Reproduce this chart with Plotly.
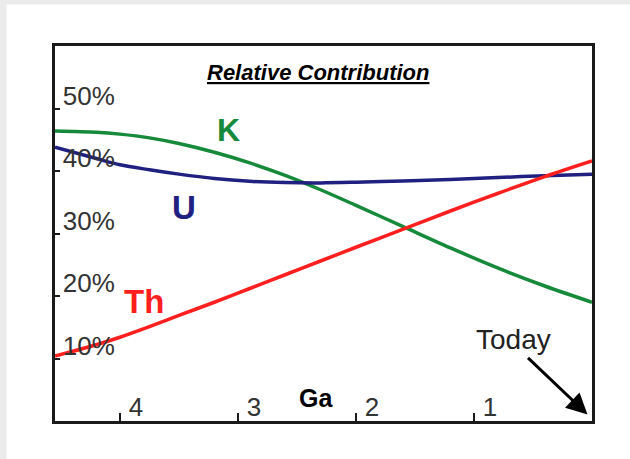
import plotly.graph_objects as go

# Data (Ga before present, % contribution)
ga = [4.55, 4.2, 4.0, 3.75, 3.5, 3.2, 2.9, 2.6, 2.3, 2.0, 1.6, 1.2, 0.8, 0.4, 0.0]
k_vals = [46.4, 46.2, 45.9, 45.3, 44.4, 43.0, 41.3, 39.3, 37.0, 34.5, 31.1, 27.7, 24.5, 21.6, 19.0]
u_vals = [43.8, 42.0, 41.0, 40.2, 39.5, 38.8, 38.35, 38.15, 38.1, 38.2, 38.4, 38.65, 38.95, 39.25, 39.5]
th_vals = [10.4, 12.2, 13.4, 15.1, 16.9, 19.0, 21.2, 23.4, 25.6, 27.8, 30.7, 33.6, 36.4, 39.1, 41.6]

x_ticks = [4, 3, 2, 1]
x_tick_labels = ["4", "3", "2", "1"]
y_ticks = [10, 20, 30, 40, 50]
y_tick_labels = ["10%", "20%", "30%", "40%", "50%"]

GREEN = "#17893b"
NAVY = "#202080"
RED = "#ff1f1f"
FONT = "Liberation Sans, Arial, sans-serif"

L, R, T, B = 54.5, 37.5, 45.5, 37.5
PW = 630 - L - R
PH = 459 - T - B

fig = go.Figure()
for vals, col in [(k_vals, GREEN), (u_vals, NAVY), (th_vals, RED)]:
    fig.add_trace(go.Scatter(x=ga, y=vals, mode="lines",
                             line=dict(color=col, width=3.5, shape="spline", smoothing=0.9),
                             showlegend=False, hoverinfo="skip"))

fig.update_layout(
    width=630, height=459,
    margin=dict(l=L, r=R, t=T, b=B, autoexpand=False),
    paper_bgcolor="#ebebeb",
    plot_bgcolor="white",
    font=dict(family=FONT, color="#333333"),
    showlegend=False,
)

fig.update_xaxes(
    range=[4.55, 0], showgrid=False, zeroline=False,
    showline=True, linecolor="#1a1a1a", linewidth=3, mirror=True,
    tickvals=x_ticks, ticktext=x_tick_labels,
    ticks="inside", ticklen=8, tickwidth=2, tickcolor="#1a1a1a",
    ticklabelposition="inside", ticklabelshift=-16, ticklabelstandoff=-6,
    tickfont=dict(size=26, color="#333333", family=FONT),
)
fig.update_yaxes(
    range=[0, 60], showgrid=False, zeroline=False,
    showline=True, linecolor="#1a1a1a", linewidth=3, mirror=True,
    tickvals=y_ticks, ticktext=y_tick_labels,
    ticks="inside", ticklen=5, tickwidth=2, tickcolor="#1a1a1a",
    ticklabelposition="inside", ticklabelshift=-13, ticklabelstandoff=5,
    tickfont=dict(size=26, color="#333333", family=FONT),
)

# white card behind everything except thin gray strips at left/top
fig.add_shape(type="rect", xref="paper", yref="paper",
              x0=(6 - L) / PW, x1=1.2, y0=-0.3, y1=(459 - B - 4) / PH,
              fillcolor="white", line=dict(width=0), layer="below")

def px_x(px):
    return (L + PW - px) / (PW / 4.55)

def px_y(py):
    return (459 - B - py) / (PH / 60)

fig.add_annotation(x=(318 - L) / PW, y=(459 - B - 72) / PH, xref="paper", yref="paper",
                   xanchor="center", yanchor="middle",
                   text="<b><i><u>Relative Contribution</u></i></b>", showarrow=False,
                   font=dict(size=22, color="black", family=FONT))
fig.add_annotation(x=px_x(228), y=px_y(130), text="<b>K</b>", showarrow=False,
                   xanchor="center", yanchor="middle",
                   font=dict(size=32, color=GREEN, family=FONT))
fig.add_annotation(x=px_x(184), y=px_y(207), text="<b>U</b>", showarrow=False,
                   xanchor="center", yanchor="middle",
                   font=dict(size=33, color=NAVY, family=FONT))
fig.add_annotation(x=px_x(144), y=px_y(302), text="<b>Th</b>", showarrow=False,
                   xanchor="center", yanchor="middle",
                   font=dict(size=33, color=RED, family=FONT))
fig.add_annotation(x=px_x(316), y=px_y(398), text="<b>Ga</b>", showarrow=False,
                   xanchor="center", yanchor="middle",
                   font=dict(size=25, color="black", family=FONT))
fig.add_annotation(x=px_x(514), y=px_y(340), text="Today", showarrow=False,
                   xanchor="center", yanchor="middle",
                   font=dict(size=28, color="#222222", family=FONT))
fig.add_annotation(x=px_x(588), y=px_y(415), text="", showarrow=True,
                   ax=-61, ay=-58, arrowhead=2, arrowsize=1.4, arrowwidth=3, arrowcolor="black")

fig.write_html("out.html", config={"displayModeBar": False},
               post_script="document.body.style.margin='0';document.body.style.overflow='hidden';")
